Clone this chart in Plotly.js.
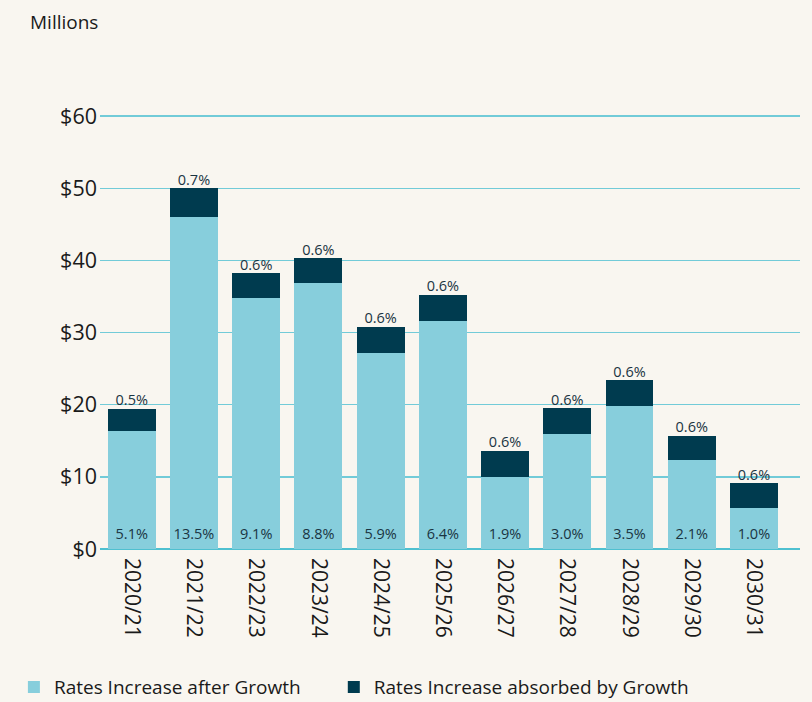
<!DOCTYPE html>
<html><head><meta charset="utf-8">
<script src="https://cdn.plot.ly/plotly-3.0.1.min.js"></script>
<style>html,body{margin:0;padding:0;background:#f9f6f0;}#chart{width:812px;height:702px;}</style>
</head><body><div id="chart"></div>
<script>
const years = ["2020/21","2021/22","2022/23","2023/24","2024/25","2025/26","2026/27","2027/28","2028/29","2029/30","2030/31"];
const afterGrowth = [16.3, 46.0, 34.8, 36.9, 27.2, 31.6, 10.0, 15.9, 19.8, 12.3, 5.7];
const absorbed = [3.1, 4.0, 3.4, 3.4, 3.6, 3.6, 3.6, 3.6, 3.6, 3.4, 3.4];
const bottomPct = ["5.1%","13.5%","9.1%","8.8%","5.9%","6.4%","1.9%","3.0%","3.5%","2.1%","1.0%"];
const topPct = ["0.5%","0.7%","0.6%","0.6%","0.6%","0.6%","0.6%","0.6%","0.6%","0.6%","0.6%"];
const yTicks = [0,10,20,30,40,50,60];
const yTickText = ["$0","$10","$20","$30","$40","$50","$60"];

const totals = afterGrowth.map((v,i)=>v+absorbed[i]);
const font = "Open Sans, Noto Sans, sans-serif";

const traces = [
  {type:"bar", x:years, y:afterGrowth, name:"Rates Increase after Growth",
   marker:{color:"#87cedc"}, hoverinfo:"skip", legend:"legend"},
  {type:"bar", x:years, y:absorbed, name:"Rates Increase absorbed by Growth",
   marker:{color:"#003b4f"}, hoverinfo:"skip", legend:"legend2"},
  {type:"scatter", mode:"text", x:years, y:years.map(()=>1.9), text:bottomPct,
   textfont:{size:14.5, color:"#1a3442", family:font}, showlegend:false, hoverinfo:"skip"},
  {type:"scatter", mode:"text", x:years, y:totals, text:topPct, textposition:"top center",
   textfont:{size:14.5, color:"#1a3442", family:font}, showlegend:false, hoverinfo:"skip"}
];

const legendBase = {orientation:"h", xanchor:"left", y:-0.314, yanchor:"middle",
    font:{size:19, color:"#1a1a1a"}, itemwidth:30, bgcolor:"rgba(0,0,0,0)"};

const layout = {
  width:812, height:702,
  paper_bgcolor:"#f9f6f0", plot_bgcolor:"#f9f6f0",
  margin:{l:100, r:12, t:109, b:153, autoexpand:false},
  barmode:"stack", bargap:0.23,
  font:{family:font, color:"#1a1a1a"},
  xaxis:{type:"category", range:[-0.51,10.74], tickangle:90, automargin:false,
    tickfont:{size:21, color:"#1a1a1a"}, showgrid:false, ticks:"", ticklen:0,
    showline:false, zeroline:false, ticklabelstandoff:8},
  yaxis:{range:[0,61], tickvals:yTicks, ticktext:yTickText, automargin:false,
    tickfont:{size:21.5, color:"#1a1a1a"}, showgrid:true, gridcolor:"#72cbd8", gridwidth:1.5,
    zeroline:true, zerolinecolor:"#4fc0d0", zerolinewidth:2.5, showline:false, ticks:"",
    ticklabelstandoff:2},
  showlegend:true,
  legend:Object.assign({}, legendBase, {x:-0.123}),
  legend2:Object.assign({}, legendBase, {x:0.334}),
  annotations:[{text:"Millions", xref:"paper", yref:"paper", x:-0.103, y:1.198,
    xanchor:"left", yanchor:"middle", showarrow:false, font:{size:19, color:"#1a1a1a"}}]
};

Plotly.newPlot("chart", traces, layout, {displayModeBar:false, staticPlot:true});
</script></body></html>
